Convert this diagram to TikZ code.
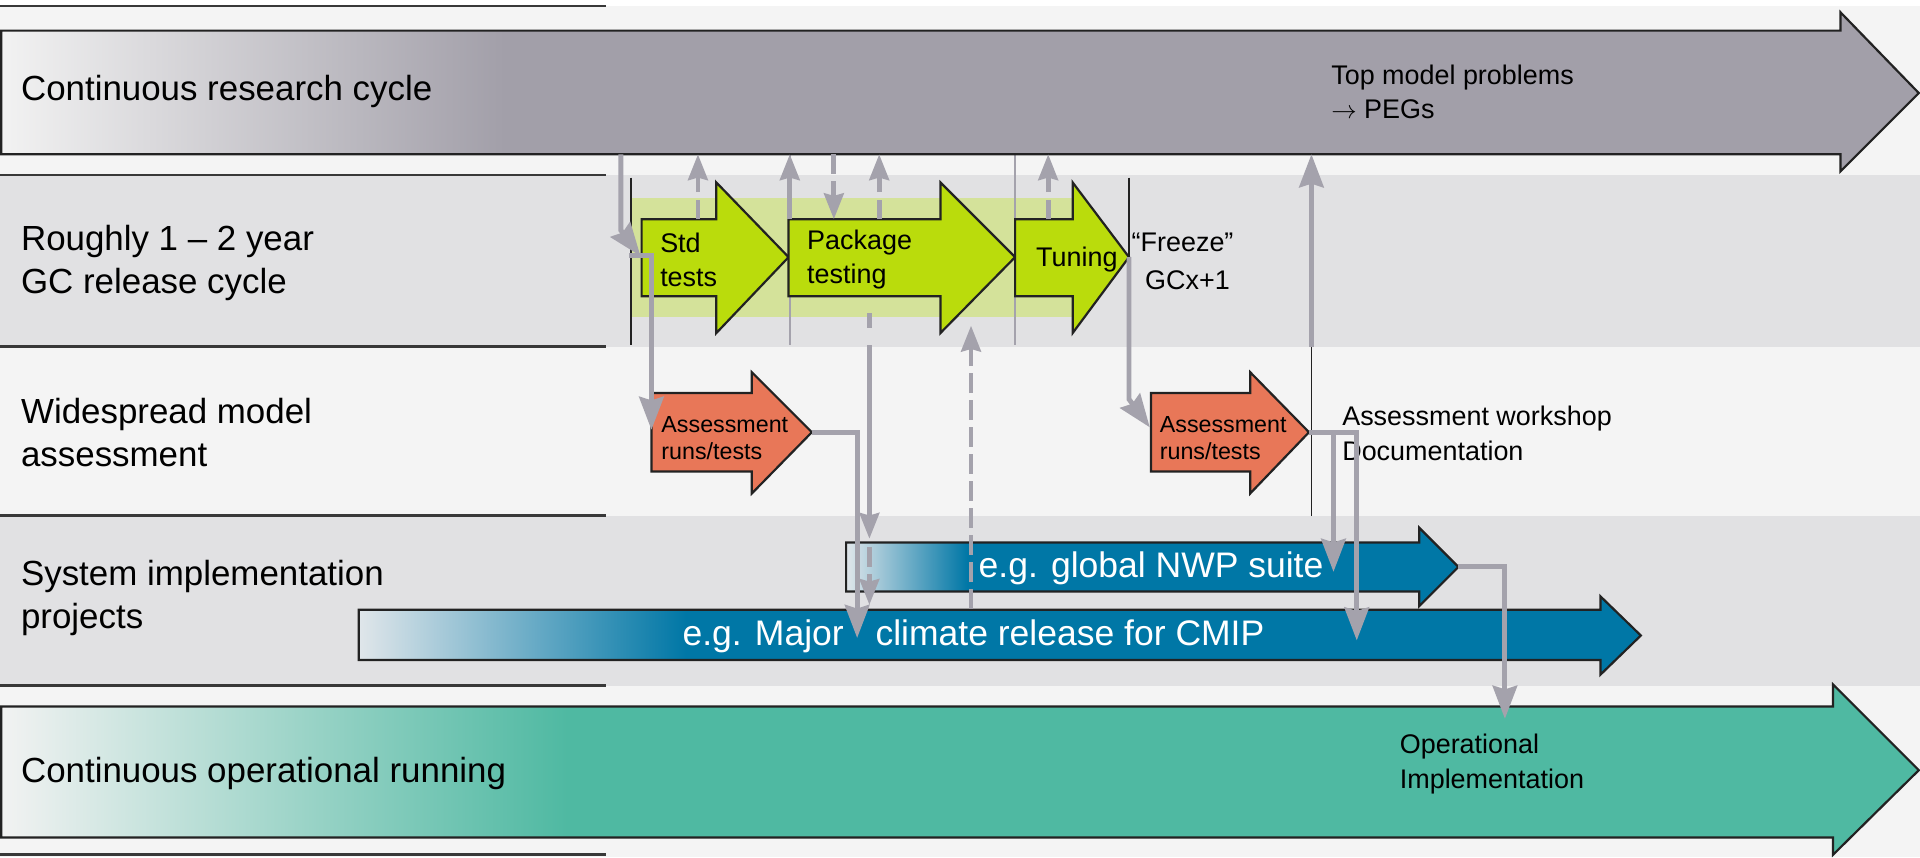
\documentclass[tikz,border=0pt]{standalone}
\usepackage{fontspec}
\setmainfont{Liberation Sans}
\usetikzlibrary{arrows.meta}
\definecolor{lanelight}{HTML}{F4F4F4}
\definecolor{lanedark}{HTML}{E1E1E3}
\definecolor{researchgray}{HTML}{A29FA9}
\definecolor{fadegray}{HTML}{F2F2F2}
\definecolor{opteal}{HTML}{4FB9A2}
\definecolor{projblue}{HTML}{0077A6}
\definecolor{fadeblue}{HTML}{E0E6EA}
\definecolor{brightgreen}{HTML}{BADC0C}
\definecolor{bandgreen}{HTML}{D4E29A}
\definecolor{assessorange}{HTML}{E87758}
\definecolor{linkgray}{HTML}{A4A2AC}
\definecolor{outlinedark}{HTML}{222222}
\begin{document}
\begin{tikzpicture}[x=1pt,y=-1pt,
  lanelbl/.style={font=\fontsize{28.5}{35}\selectfont, anchor=west, align=left, inner sep=0pt},
  notelbl/.style={font=\fontsize{22}{28}\selectfont, anchor=west, align=left, inner sep=0pt},
  boxlbl/.style={font=\fontsize{22}{28}\selectfont, anchor=west, align=left, inner sep=0pt},
  orangelbl/.style={font=\fontsize{19}{22}\selectfont, anchor=west, align=left, inner sep=0pt},
  bluelbl/.style={font=\fontsize{29}{34}\selectfont, text=white, inner sep=0pt},
  laneline/.style={draw=outlinedark!90, line width=2pt},
  sepdark/.style={draw=outlinedark, line width=1.5pt},
  seplight/.style={draw=linkgray, line width=1.5pt},
  shapeline/.style={draw=outlinedark, line width=1.8pt, line join=miter},
  link/.style={draw=linkgray, line width=4pt, -{Stealth[length=27pt,width=20pt,inset=3pt]}},
  linksmall/.style={draw=linkgray, line width=4pt, -{Stealth[length=21pt,width=16pt,inset=2pt]}},
  dashlink/.style={dash pattern=on 16pt off 6pt}
]
\useasboundingbox (0,0) rectangle (1568,700);
% lane backgrounds
\fill[white] (0,0) rectangle (1568,5);
\fill[lanelight] (0,5) rectangle (1568,143);
\fill[lanedark] (0,143) rectangle (1568,283);
\fill[lanelight] (0,283) rectangle (1568,421);
\fill[lanedark] (0,421) rectangle (1568,560);
\fill[lanelight] (0,560) rectangle (1568,700);
\foreach \yy in {5,143,283,421,560,698} \draw[laneline] (0,\yy) -- (495,\yy);
% green band
\fill[bandgreen] (516,162) rectangle (876,259);
% separators
\draw[sepdark] (515,145) -- (515,282);
\draw[sepdark] (922,145) -- (922,283);
\draw[sepdark] (1071,283) -- (1071,421);
\draw[seplight] (645,126) -- (645,282);
\draw[seplight] (829,126) -- (829,282);

% research arrow
\fill[researchgray] (1,25) -- (1503,25) -- (1503,10) -- (1567,76) -- (1503,140) -- (1503,126) -- (1,126) -- cycle;
\shade[left color=fadegray, right color=researchgray] (1,25) rectangle (412,126);
\draw[shapeline] (1,25) -- (1503,25) -- (1503,10) -- (1567,76) -- (1503,140) -- (1503,126) -- (1,126) -- cycle;
% operational arrow
\fill[opteal] (1,577) -- (1497,577) -- (1497,559) -- (1567,629) -- (1497,698) -- (1497,684) -- (1,684) -- cycle;
\shade[left color=fadegray, right color=opteal] (1,577) rectangle (463,684);
\draw[shapeline] (1,577) -- (1497,577) -- (1497,559) -- (1567,629) -- (1497,698) -- (1497,684) -- (1,684) -- cycle;
% green process arrows
\draw[shapeline, fill=brightgreen] (524,179) -- (585,179) -- (585,149) -- (644,210) -- (585,272) -- (585,242) -- (524,242) -- cycle;
\draw[shapeline, fill=brightgreen] (644,179) -- (768,179) -- (768,149) -- (829,210) -- (768,272) -- (768,242) -- (644,242) -- cycle;
\draw[shapeline, fill=brightgreen] (829,179) -- (876,179) -- (876,149) -- (922,210) -- (876,272) -- (876,242) -- (829,242) -- cycle;
% orange assessment arrows
\draw[shapeline, fill=assessorange] (532,321) -- (614,321) -- (614,304) -- (663,353) -- (614,403) -- (614,385) -- (532,385) -- cycle;
\draw[shapeline, fill=assessorange] (940,321) -- (1021,321) -- (1021,304) -- (1069,353) -- (1021,403) -- (1021,385) -- (940,385) -- cycle;
% blue project arrows
\fill[projblue] (691,443) -- (1159,443) -- (1159,431) -- (1191,463) -- (1159,495) -- (1159,483) -- (691,483) -- cycle;
\shade[left color=fadeblue, right color=projblue] (691,443) rectangle (790,483);
\draw[shapeline] (691,443) -- (1159,443) -- (1159,431) -- (1191,463) -- (1159,495) -- (1159,483) -- (691,483) -- cycle;
\fill[projblue] (293,498) -- (1307,498) -- (1307,487) -- (1340,519) -- (1307,551) -- (1307,539) -- (293,539) -- cycle;
\shade[left color=fadeblue, right color=projblue] (293,498) rectangle (560,539);
\draw[shapeline] (293,498) -- (1307,498) -- (1307,487) -- (1340,519) -- (1307,551) -- (1307,539) -- (293,539) -- cycle;

% texts
\node[lanelbl] (labResearch) at (17,75) {Continuous research cycle};
\node[lanelbl] (labGC) at (17,215) {Roughly 1 – 2 year\\GC release cycle};
\node[lanelbl] (labAssess) at (17,353) {Widespread model\\assessment};
\node[lanelbl] (labSystem) at (17,488) {System implementation\\projects};
\node[lanelbl] (labOper) at (17,632) {Continuous operational running};
\node[notelbl] (peg) at (1087,75) {Top model problems\\$\rightarrow$ PEGs};
\node[boxlbl] (std) at (539,212) {Std\\tests};
\node[boxlbl] (pkg) at (659,212) {Package\\testing};
\node[boxlbl] (tun) at (846,212) {Tuning};
\node[notelbl] (freeze) at (924,198) {“Freeze”};
\node[notelbl] (gcx) at (935,229) {GCx+1};
\node[orangelbl] (as1) at (540,358) {Assessment\\runs/tests};
\node[orangelbl] (as2) at (947,358) {Assessment\\runs/tests};
\node[notelbl] (workshop) at (1096,354) {Assessment workshop\\Documentation};
\node[bluelbl] (nwp) at (940,464) {e.g. global NWP suite};
\node[bluelbl] (cmip) at (795,520) {e.g. Major\hspace{26pt}climate release for CMIP};
\node[notelbl] (opimpl) at (1143,624) {Operational\\Implementation};

% connector end points
\coordinate (rA) at (507,126);
\coordinate (stdIn) at (523,209);
\coordinate (stdL) at (514,209);
\coordinate (as1In) at (532,351);
\coordinate (as1Tip) at (663,353);
\coordinate (majIn1) at (700,521);
\coordinate (pkgOut) at (710,256);
\coordinate (nwpTop1) at (710,440);
\coordinate (nwpIn1) at (710,447);
\coordinate (majTop1) at (710,494);
\coordinate (majSrc) at (793,497);
\coordinate (bandBot) at (793,266);
\coordinate (stdTop) at (570,179);
\coordinate (rStd) at (570,126);
\coordinate (pkgTopA) at (645,179);
\coordinate (rPkgA) at (645,126);
\coordinate (rPkgB) at (681,126);
\coordinate (pkgTopB) at (681,179);
\coordinate (pkgTopC) at (718,179);
\coordinate (rPkgC) at (718,126);
\coordinate (tunTop) at (856,179);
\coordinate (rTun) at (856,126);
\coordinate (tunTip) at (922,210);
\coordinate (as2In) at (939,349);
\coordinate (frzLine) at (1071,283);
\coordinate (rPEG) at (1071,126);
\coordinate (as2Tip) at (1069,353);
\coordinate (nwpIn2) at (1089,467);
\coordinate (majIn2) at (1108,523);
\coordinate (nwpTip) at (1191,463);
\coordinate (opIn) at (1229,587);

% connectors
\draw[link] (rA) -- ++(0,62) -- (stdIn);
\draw[link] (stdL) -| (as1In);
\draw[link] (as1Tip) -| (majIn1);
\draw[linksmall, dash pattern=on 12pt off 14pt on 400pt] (pkgOut) -- (nwpTop1);
\draw[linksmall, dashlink] (nwpIn1) -- (majTop1);
\draw[linksmall, dashlink] (majSrc) -- (bandBot);
\draw[linksmall, dashlink] (stdTop) -- (rStd);
\draw[linksmall] (pkgTopA) -- (rPkgA);
\draw[linksmall, dashlink] (rPkgB) -- (pkgTopB);
\draw[linksmall, dashlink] (pkgTopC) -- (rPkgC);
\draw[linksmall, dashlink] (tunTop) -- (rTun);
\draw[link] (tunTip) -- ++(0,116) -- (as2In);
\draw[link] (frzLine) -- (rPEG);
\draw[link] (as2Tip) -| (nwpIn2);
\draw[link] (as2Tip) -| (majIn2);
\draw[link] (nwpTip) -| (opIn);
\end{tikzpicture}
\end{document}
